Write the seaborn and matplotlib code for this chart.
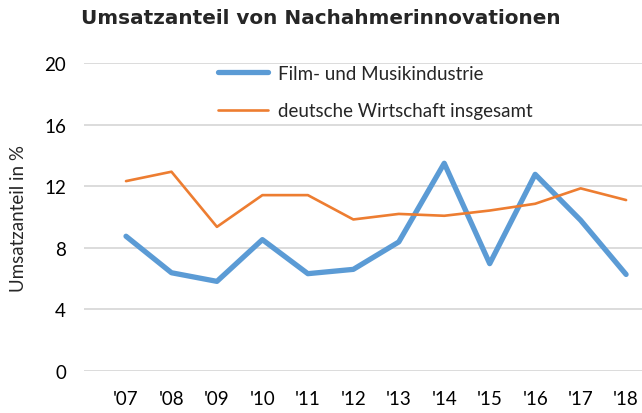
import matplotlib
matplotlib.use("Agg")
import matplotlib.pyplot as plt
import seaborn as sns
import pandas as pd

# --- data ---
years = ["'07", "'08", "'09", "'10", "'11", "'12", "'13", "'14", "'15", "'16", "'17", "'18"]
film_musik = [8.75, 6.38, 5.82, 8.53, 6.32, 6.6, 8.38, 13.49, 6.97, 12.77, 9.79, 6.27]
wirtschaft = [12.33, 12.94, 9.36, 11.42, 11.42, 9.84, 10.2, 10.08, 10.42, 10.86, 11.86, 11.1]
y_ticks = [0, 4, 8, 12, 16, 20]

BLUE = "#5B9BD5"
ORANGE = "#ED7D31"

sns.set_style("white")
plt.rcParams["font.family"] = ["Lato", "DejaVu Sans"]

df = pd.DataFrame({"Jahr": years, "film": film_musik, "wirt": wirtschaft})
df["pos"] = range(len(years))

fig = plt.figure(figsize=(6.42, 4.14), dpi=100)
ax = fig.add_axes([84 / 642, 42 / 414, 558 / 642, 308 / 414])

sns.lineplot(data=df, x="pos", y="film", ax=ax, color=BLUE, linewidth=3.8,
             label="Film- und Musikindustrie", solid_capstyle="round")
sns.lineplot(data=df, x="pos", y="wirt", ax=ax, color=ORANGE, linewidth=1.9,
             label="deutsche Wirtschaft insgesamt")

ax.set_ylim(0, 20)
ax.set_xlim(-0.924, 11.35)
ax.set_yticks(y_ticks)
ax.set_xticks(df["pos"])
ax.set_xticklabels(years)
ax.tick_params(axis="both", length=0, labelsize=13.5, colors="#000000")
ax.tick_params(axis="y", pad=13)
ax.tick_params(axis="x", pad=14)
ax.yaxis.grid(True, color="#d9d9d9", linewidth=1.3)
ax.set_axisbelow(True)
for s in ax.spines.values():
    s.set_visible(False)

ax.set_xlabel("")
ax.set_ylabel("Umsatzanteil in %", fontsize=13.5, labelpad=12)

ax.legend(loc="upper left", bbox_to_anchor=(214 / 642, 1 - 62 / 414),
          bbox_transform=fig.transFigure, frameon=False, fontsize=13.5,
          handlelength=2.7, handletextpad=0.5, labelspacing=1.1,
          borderaxespad=0, borderpad=0.2)

fig.text(0.5, 1 - 18 / 414, "Umsatzanteil von Nachahmerinnovationen",
         ha="center", va="center", fontsize=14.4, fontweight="bold",
         family=["DejaVu Sans"])

fig.savefig("out.png", dpi=100)
